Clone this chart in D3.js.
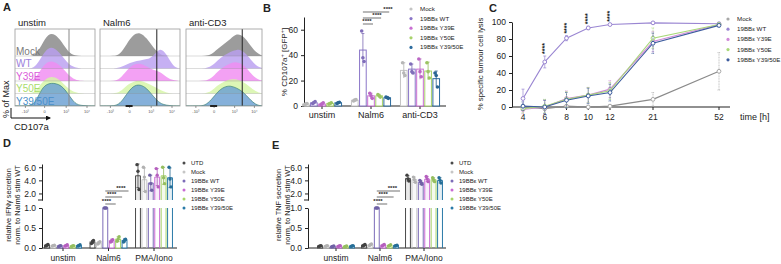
<!DOCTYPE html>
<html>
<head>
<meta charset="utf-8">
<script src="https://cdn.jsdelivr.net/npm/d3@7"></script>
<style>
  body { margin: 0; background: #fff; }
  svg { display: block; }
  text { font-family: "Liberation Sans", Arial, sans-serif; fill: #222; }
</style>
</head>
<body>
<script>
// ---------- data ----------
// A: staggered CD107a histograms, relative height sampled at 13 points across each plot
let histRows = ["Mock", "WT", "Y39E", "Y50E", "Y39/50E"];
let histConds = ["unstim", "Nalm6", "anti-CD3"];
let histUnstim = [
  [0, 0, 0, 0.02, 0.45, 0.95, 0.92, 0.6, 0.15, 0.01, 0, 0, 0],
  [0, 0, 0, 0.03, 0.5, 0.9, 0.85, 0.55, 0.18, 0.03, 0, 0, 0],
  [0, 0, 0, 0.05, 0.55, 0.85, 0.8, 0.6, 0.25, 0.05, 0, 0, 0],
  [0, 0, 0, 0.04, 0.45, 0.7, 0.7, 0.5, 0.2, 0.04, 0, 0, 0],
  [0, 0, 0, 0.08, 0.75, 0.95, 0.95, 0.85, 0.5, 0.08, 0.02, 0, 0]
];
let histNalm6 = [
  [0, 0, 0, 0.05, 0.5, 0.9, 1, 0.75, 0.35, 0.05, 0, 0, 0],
  [0, 0, 0, 0.03, 0.18, 0.28, 0.33, 0.38, 0.5, 0.9, 0.6, 0.05, 0],
  [0, 0, 0, 0.08, 0.45, 0.7, 0.75, 0.6, 0.45, 0.4, 0.15, 0.02, 0],
  [0, 0, 0, 0.05, 0.35, 0.5, 0.55, 0.45, 0.3, 0.15, 0.03, 0, 0],
  [0, 0, 0, 0.08, 0.5, 0.85, 0.9, 0.75, 0.4, 0.1, 0.03, 0, 0]
];
let histCD3 = [
  [0, 0, 0, 0, 0.05, 0.3, 0.5, 0.7, 0.95, 0.85, 0.5, 0.15, 0.02],
  [0, 0, 0, 0, 0.08, 0.35, 0.55, 0.7, 0.8, 0.75, 0.45, 0.12, 0.02],
  [0, 0, 0, 0, 0.1, 0.4, 0.6, 0.75, 0.8, 0.7, 0.4, 0.1, 0.02],
  [0, 0, 0, 0, 0.08, 0.35, 0.5, 0.6, 0.6, 0.5, 0.3, 0.08, 0],
  [0, 0, 0, 0.02, 0.25, 0.6, 0.8, 0.85, 0.75, 0.6, 0.3, 0.05, 0]
];
let histGate = [0.675, 0.71, 0.74];
let histTicks = ["-10\u00b3", "0", "10\u00b3", "10\u2074"];

// B: % CD107a+ of GFP+
let bGroups = ["unstim", "Nalm6", "anti-CD3"];
let bSeries = ["Mock", "19BB\u03b5 WT", "19BB\u03b5 Y39E", "19BB\u03b5 Y50E", "19BB\u03b5 Y39/50E"];
let bMeans = [[1.5, 2.5, 1.5, 2, 2.5], [4.5, 44, 8, 8, 6.5], [28, 29, 29, 27.5, 21.5]];
let bSd = [[0.8, 1, 1, 0.8, 0.8], [1, 13, 2, 1.2, 1], [6, 4, 8, 7, 6]];
let bPoints = [
  [[1, 1.5, 2], [2, 2.5, 3.5], [1, 1.5, 2.5], [1.5, 2, 2.5], [2, 2.5, 3]],
  [[4, 4.5, 5], [59, 38, 35], [10, 8, 6], [9, 8, 7], [7, 6.5, 6]],
  [[34, 26, 24], [33, 27, 26], [37, 27, 23], [34, 27, 22], [26, 24, 15]]
];

// C: % specific tumour cell lysis over time
let cTimes = [4, 6, 8, 10, 12, 21, 52];
let cMock = [0, -2, 1, 0, 1, 9, 42];
let cWT = [10, 53, 81, 93, 97, 99, 98];
let cY39E = [-3, 0, 10, 14, 21, 77, 97];
let cY50E = [-2, 1, 9, 14, 19, 81, 97];
let cY3950E = [1, 0, 8, 13, 17, 75, 96];
let cMockErr = [1, 2, 2, 2, 2, 8, 22];
let cWTErr = [11, 7, 3, 2, 1, 1, 1];
let cMutErr = [5, 8, 9, 9, 10, 12, 2];
let cStars = [6, 8, 10, 12];

// D / E: cytokine secretion normalised to Nalm6-stimulated WT
let dGroups = ["unstim", "Nalm6", "PMA/Iono"];
let dSeries = ["UTD", "Mock", "19BB\u03b5 WT", "19BB\u03b5 Y39E", "19BB\u03b5 Y50E", "19BB\u03b5 Y39/50E"];
let ifnMeans = [[0.07, 0.06, 0.05, 0.06, 0.05, 0.06], [0.15, 0.13, 1.0, 0.18, 0.22, 0.19], [4.7, 4.1, 3.6, 4.5, 4.7, 4.4]];
let ifnSd = [[0.02, 0.01, 0.01, 0.02, 0.01, 0.02], [0.04, 0.03, 0, 0.04, 0.06, 0.04], [1.8, 1.8, 1.2, 1.3, 1.3, 1.5]];
let ifnPoints = [
  [[0.05, 0.07, 0.09], [0.05, 0.06, 0.07], [0.04, 0.05, 0.06], [0.05, 0.06, 0.08], [0.04, 0.05, 0.06], [0.05, 0.06, 0.08]],
  [[0.11, 0.15, 0.19], [0.1, 0.13, 0.16], [1, 1, 1], [0.15, 0.18, 0.21], [0.17, 0.22, 0.28], [0.15, 0.19, 0.22]],
  [[6.4, 5.4, 2.6], [6.0, 4.5, 2.3], [4.8, 3.5, 2.5], [5.8, 4.8, 3.0], [6.0, 4.4, 3.5], [6.0, 4.2, 3.0]]
];
let tnfMeans = [[0.05, 0.05, 0.04, 0.05, 0.04, 0.05], [0.07, 0.08, 1.0, 0.07, 0.06, 0.06], [4.3, 4.1, 3.7, 4.2, 4.1, 4.0]];
let tnfSd = [[0.01, 0.01, 0.01, 0.01, 0.01, 0.01], [0.02, 0.02, 0, 0.02, 0.01, 0.01], [0.4, 0.4, 0.3, 0.4, 0.3, 0.4]];
let tnfPoints = [
  [[0.04, 0.05, 0.06], [0.04, 0.05, 0.06], [0.03, 0.04, 0.05], [0.04, 0.05, 0.06], [0.03, 0.04, 0.05], [0.04, 0.05, 0.06]],
  [[0.05, 0.07, 0.09], [0.06, 0.08, 0.1], [1, 1, 1], [0.05, 0.07, 0.09], [0.05, 0.06, 0.08], [0.05, 0.06, 0.07]],
  [[4.8, 4.2, 3.9], [4.5, 4.1, 3.7], [4.0, 3.7, 3.4], [4.6, 4.2, 3.8], [4.4, 4.1, 3.8], [4.4, 4.0, 3.6]]
];

// ---------- colours ----------
let histFill = ["#9c9c9c", "#b99ff0", "#f08cf2", "#d6f5a6", "#6a9fd2"];
let histText = ["#7a7a7a", "#9a80dc", "#d95ad9", "#a9dc6c", "#4a8fca"];
let bColors = ["#c4c4c4", "#8a76c8", "#c96fd2", "#a8d26a", "#2d6c9e"];
let cColors = ["#a8a8a8", "#9a86d2", "#d08ad8", "#a8d878", "#3d5c9e"];
let dColors = ["#4a4a4a", "#c6c6c6", "#7c6cb8", "#c96ad4", "#a6d46a", "#2a7aa8"];

let W = 781, H = 264;
let svg = d3.select("body").append("svg").attr("width", W).attr("height", H);
svg.append("rect").attr("width", W).attr("height", H).attr("fill", "#fff");

function panelLabel(t, x, y) {
  svg.append("text").attr("x", x).attr("y", y)
    .attr("font-size", 11).attr("font-weight", "bold").text(t);
}

function styleAxis(g) {
  g.selectAll("path, line").attr("stroke", "#222").attr("stroke-width", 1);
  g.selectAll("text").attr("font-family", "Liberation Sans, Arial, sans-serif").attr("fill", "#222");
}

// ================= A =================
panelLabel("A", 3, 11);
let aBoxes = [[15, 95], [100, 180], [186, 262]];
let aTop = 29, aBottom = 106;
let rowY = d3.scaleLinear().domain([0, 4]).range([56, 106]);
let hScale = d3.scaleLinear().domain([0, 1]).range([0, 24]);
let histData = [histUnstim, histNalm6, histCD3];

histConds.forEach((cond, ci) => {
  let [x0, x1] = aBoxes[ci];
  let hx = d3.scaleLinear().domain([0, 12]).range([x0, x1]);
  let g = svg.append("g");
  g.append("clipPath").attr("id", "clipA" + ci)
    .append("rect").attr("x", x0).attr("y", aTop).attr("width", x1 - x0).attr("height", aBottom - aTop);
  let inner = g.append("g").attr("clip-path", "url(#clipA" + ci + ")");

  histRows.forEach((r, ri) => {
    let base = rowY(ri);
    let area = d3.area()
      .curve(d3.curveBasis)
      .x((d, i) => hx(i))
      .y0(base)
      .y1(d => base - hScale(d));
    inner.append("path")
      .datum(histData[ci][ri])
      .attr("d", area)
      .attr("fill", histFill[ri])
      .attr("fill-opacity", ri == 0 ? 1 : 0.82)
      .attr("stroke", ri == 4 ? "#2e7a6a" : "none")
      .attr("stroke-width", 0.6);
  });
  // row separators
  histRows.forEach((r, ri) => {
    if (ri < 4) {
      inner.append("line").attr("x1", x0).attr("x2", x1)
        .attr("y1", rowY(ri)).attr("y2", rowY(ri))
        .attr("stroke", "#888").attr("stroke-opacity", 0.5).attr("stroke-width", 0.6);
    }
  });
  // gate line
  let gx = x0 + histGate[ci] * (x1 - x0);
  inner.append("line").attr("x1", gx).attr("x2", gx).attr("y1", aTop).attr("y2", aBottom)
    .attr("stroke", ci == 0 ? "#888" : "#222").attr("stroke-width", 1);
  // frame
  g.append("rect").attr("x", x0).attr("y", aTop).attr("width", x1 - x0).attr("height", aBottom - aTop)
    .attr("fill", "none").attr("stroke", "#999").attr("stroke-width", 0.8);
  g.append("text").attr("x", x0 + 3).attr("y", aTop - 3).attr("font-size", 9.5).text(cond);
  // tiny log ticks
  let tickFr = [0.13, 0.37, 0.64, 0.9];
  histTicks.forEach((t, i) => {
    let tx = x0 + tickFr[i] * (x1 - x0);
    g.append("line").attr("x1", tx).attr("x2", tx).attr("y1", aBottom).attr("y2", aBottom + 2)
      .attr("stroke", "#555").attr("stroke-width", 0.6);
    g.append("text").attr("x", tx).attr("y", aBottom + 7).attr("font-size", 4)
      .attr("text-anchor", "middle").style("fill", "#555").text(t);
  });
  if (ci > 0) {
    g.append("rect").attr("x", x0 + 0.37 * (x1 - x0) - 4).attr("y", aBottom - 1)
      .attr("width", 7).attr("height", 2).attr("fill", "#222");
  }
});
// row labels
histRows.forEach((r, ri) => {
  svg.append("text").attr("x", 16).attr("y", rowY(ri) - 1.5)
    .attr("font-size", 10).style("fill", histText[ri]).text(r);
});
// axis arrows
svg.append("defs").append("marker").attr("id", "arr").attr("viewBox", "0 0 10 10")
  .attr("refX", 8).attr("refY", 5).attr("markerWidth", 5).attr("markerHeight", 5)
  .attr("orient", "auto").append("path").attr("d", "M0,0L10,5L0,10z").attr("fill", "#111");
svg.append("path").attr("d", "M11,118H50").attr("stroke", "#111").attr("stroke-width", 1)
  .attr("marker-end", "url(#arr)");
svg.append("path").attr("d", "M11,118V108").attr("stroke", "#111").attr("stroke-width", 1);
svg.append("text").attr("transform", "translate(9,118) rotate(-90)")
  .attr("font-size", 9).text("% of Max");
svg.append("text").attr("x", 14).attr("y", 130).attr("font-size", 9.5).text("CD107a");

// ================= B =================
panelLabel("B", 263, 12);
let bx = d3.scalePoint().domain(bGroups).range([322, 420]);
let bInner = d3.scaleBand().domain(bSeries).range([-21, 21]).padding(0.18);
let by = d3.scaleLinear().domain([0, 70]).range([106, 17]);
let bw = bInner.bandwidth();
let gB = svg.append("g");
gB.append("g").attr("transform", "translate(304,0)")
  .call(d3.axisLeft(by).tickValues([0, 20, 40, 60]).tickSize(3).tickSizeOuter(0))
  .call(styleAxis).call(g => g.selectAll("text").attr("font-size", 8.5));
gB.append("line").attr("x1", 304).attr("x2", 446).attr("y1", by(0)).attr("y2", by(0)).attr("stroke", "#222");
bGroups.forEach((grp, gi) => {
  gB.append("line").attr("x1", bx(grp)).attr("x2", bx(grp)).attr("y1", by(0)).attr("y2", by(0) + 3).attr("stroke", "#222");
  gB.append("text").attr("x", bx(grp)).attr("y", by(0) + 12).attr("text-anchor", "middle")
    .attr("font-size", 9).text(grp);
  bSeries.forEach((s, si) => {
    let x = bx(grp) + bInner(s);
    let m = bMeans[gi][si], sd = bSd[gi][si];
    let cxm = x + bw / 2;
    gB.append("rect").attr("x", x).attr("y", by(m)).attr("width", bw).attr("height", by(0) - by(m))
      .attr("fill", "#fff").attr("stroke", bColors[si]).attr("stroke-width", 1);
    gB.append("path").attr("d", `M${cxm},${by(m - sd)}V${by(m + sd)}M${cxm - 1.5},${by(m + sd)}h3`)
      .attr("stroke", d3.color(bColors[si]).darker(0.3)).attr("stroke-width", 0.8).attr("fill", "none");
    bPoints[gi][si].forEach((p, pi) => {
      gB.append("circle").attr("cx", cxm + [-1.2, 0, 1.2][pi]).attr("cy", by(p)).attr("r", 1.8)
        .attr("fill", d3.color(bColors[si]).darker(0.2));
    });
  });
});
// significance brackets (labels staggered like the original)
let bWTx = bx("Nalm6") + bInner(bSeries[1]) + bw / 2;
[[4, 12, 388], [3, 18, 377], [2, 24, 367]].forEach(([si, yy, tx]) => {
  let x2 = bx("Nalm6") + bInner(bSeries[si]) + bw / 2;
  gB.append("line").attr("x1", bWTx).attr("x2", x2 + 2).attr("y1", yy).attr("y2", yy)
    .attr("stroke", "#333").attr("stroke-width", 0.7);
  gB.append("text").attr("x", tx).attr("y", yy - 1).attr("text-anchor", "middle")
    .attr("font-size", 6).attr("font-weight", "bold").text("****");
});
gB.append("text").attr("transform", "translate(287,62) rotate(-90)").attr("text-anchor", "middle")
  .attr("font-size", 8).html('% CD107a<tspan dy="-3" font-size="5.5">+</tspan><tspan dy="3"> [GFP</tspan><tspan dy="-3" font-size="5.5">+</tspan><tspan dy="3">]</tspan>');
// legend
bSeries.forEach((s, si) => {
  let ly = 11 + si * 9.6;
  gB.append("circle").attr("cx", 411).attr("cy", ly - 2).attr("r", 1.6).attr("fill", bColors[si]);
  gB.append("text").attr("x", 420).attr("y", ly).attr("font-size", 6.2).text(s);
});

// ================= C =================
panelLabel("C", 489, 12);
let cx = d3.scaleLinear().domain([4, 12, 21, 52]).range([523, 610, 653, 719]);
let cy = d3.scaleLinear().domain([0, 100]).range([107, 22]);
let gC = svg.append("g");
gC.append("g").attr("transform", "translate(512,0)")
  .call(d3.axisLeft(cy).tickValues([0, 20, 40, 60, 80, 100]).tickSize(3).tickSizeOuter(0))
  .call(styleAxis).call(g => g.selectAll("text").attr("font-size", 8.5));
gC.append("line").attr("x1", 512).attr("x2", 730).attr("y1", cy(0)).attr("y2", cy(0)).attr("stroke", "#222").attr("stroke-width", 1.2);
cTimes.forEach(t => {
  gC.append("line").attr("x1", cx(t)).attr("x2", cx(t)).attr("y1", cy(0)).attr("y2", cy(0) + 3).attr("stroke", "#222");
  gC.append("text").attr("x", cx(t)).attr("y", cy(0) + 13).attr("text-anchor", "middle").attr("font-size", 8.5).text(t);
});
gC.append("text").attr("x", 740).attr("y", cy(0) + 13).attr("font-size", 9).text("time [h]");
gC.append("text").attr("transform", "translate(483,64) rotate(-90)").attr("text-anchor", "middle")
  .attr("font-size", 7.8).text("% specific tumour cell lysis");
let cSeries = [
  { name: "Mock", vals: cMock, err: cMockErr },
  { name: "19BB\u03b5 WT", vals: cWT, err: cWTErr },
  { name: "19BB\u03b5 Y39E", vals: cY39E, err: cMutErr },
  { name: "19BB\u03b5 Y50E", vals: cY50E, err: cMutErr },
  { name: "19BB\u03b5 Y39/50E", vals: cY3950E, err: cMutErr }
];
let cLine = d3.line().x((d, i) => cx(cTimes[i])).y(d => cy(d));
cSeries.forEach((s, si) => {
  let col = si == 0 ? "#8a8a8a" : cColors[si];
  s.vals.forEach((v, i) => {
    let x = cx(cTimes[i]);
    gC.append("path").attr("d", `M${x},${cy(v - s.err[i])}V${cy(v + s.err[i])}M${x - 1.5},${cy(v - s.err[i])}h3M${x - 1.5},${cy(v + s.err[i])}h3`)
      .attr("stroke", cColors[si]).attr("stroke-width", 0.7).attr("stroke-dasharray", si == 1 ? null : "1,0.6");
  });
  gC.append("path").datum(s.vals).attr("d", cLine).attr("fill", "none")
    .attr("stroke", col).attr("stroke-width", 1.1);
  s.vals.forEach((v, i) => {
    gC.append("circle").attr("cx", cx(cTimes[i])).attr("cy", cy(v)).attr("r", 1.9)
      .attr("fill", "#fff").attr("stroke", cColors[si]).attr("stroke-width", 1);
  });
});
cStars.forEach(t => {
  let i = cTimes.indexOf(t);
  let top = cy(cWT[i] + cWTErr[i]);
  gC.append("text").attr("transform", `translate(${cx(t) + 2},${Math.max(top - 2, 17)}) rotate(-90)`)
    .attr("font-size", 7).attr("font-weight", "bold").text("****");
});
cSeries.forEach((s, si) => {
  let ly = 21 + si * 10.2;
  gC.append("circle").attr("cx", 728).attr("cy", ly - 2).attr("r", 1.6).attr("fill", cColors[si]);
  gC.append("text").attr("x", 737).attr("y", ly).attr("font-size", 6.2).text(s.name);
});

// ================= D / E =================
function drawBroken(cfg) {
  let g = svg.append("g");
  let gx = d3.scalePoint().domain(dGroups).range(cfg.xr);
  let inner = d3.scaleBand().domain(dSeries).range([-20, 20]).padding(0.24);
  let w = inner.bandwidth();
  let yLow = d3.scaleLinear().domain([0, 1]).range([248, 208]);
  let yHigh = d3.scaleLinear().domain([1, 6.5]).range([200, 164]);
  let yv = v => v <= 1 ? yLow(v) : yHigh(v);

  g.append("g").attr("transform", `translate(${cfg.ax},0)`)
    .call(d3.axisLeft(yLow).tickValues([0, 0.5, 1]).tickFormat(d3.format(".1f")).tickSize(3).tickSizeOuter(0))
    .call(styleAxis).call(a => a.selectAll("text").attr("font-size", 8.5));
  g.append("g").attr("transform", `translate(${cfg.ax},0)`)
    .call(d3.axisLeft(yHigh).tickValues([2, 4, 6]).tickSize(3).tickSizeOuter(0))
    .call(styleAxis).call(a => a.selectAll("text").attr("font-size", 8.5));
  g.append("line").attr("x1", cfg.ax - 4).attr("x2", cfg.ax + 1).attr("y1", 200).attr("y2", 200).attr("stroke", "#222");
  g.append("line").attr("x1", cfg.ax).attr("x2", cfg.xEnd).attr("y1", 248).attr("y2", 248).attr("stroke", "#222");

  dGroups.forEach((grp, gi) => {
    g.append("line").attr("x1", gx(grp)).attr("x2", gx(grp)).attr("y1", 248).attr("y2", 251).attr("stroke", "#222");
    g.append("text").attr("x", gx(grp)).attr("y", 261).attr("text-anchor", "middle").attr("font-size", 8.5).text(grp);
    dSeries.forEach((s, si) => {
      let x = gx(grp) + inner(s);
      let m = cfg.means[gi][si], sd = cfg.sd[gi][si];
      let col = dColors[si];
      let mid = x + w / 2;
      if (m <= 1) {
        g.append("rect").attr("x", x).attr("y", yLow(m)).attr("width", w).attr("height", 248 - yLow(m))
          .attr("fill", "#fff").attr("stroke", col).attr("stroke-width", 1);
      } else {
        g.append("path").attr("d", `M${x},248V208M${x + w},248V208`).attr("stroke", col).attr("stroke-width", 1);
        g.append("path").attr("d", `M${x},200V${yHigh(m)}H${x + w}V200`)
          .attr("fill", col).attr("fill-opacity", 0.12).attr("stroke", col).attr("stroke-width", 1);
      }
      if (sd > 0) {
        g.append("path").attr("d", `M${mid},${yv(m - sd)}V${yv(m + sd)}M${mid - 1.5},${yv(m + sd)}h3M${mid - 1.5},${yv(m - sd)}h3`)
          .attr("stroke", d3.color(col).darker(0.4)).attr("stroke-width", 0.8);
      }
      cfg.points[gi][si].forEach((p, pi) => {
        g.append("circle").attr("cx", mid + [-1, 0, 1][pi]).attr("cy", yv(p)).attr("r", 1.7)
          .attr("fill", d3.color(col).darker(0.3));
      });
    });
  });

  // significance
  let wtX = gx("Nalm6") + inner(dSeries[2]) + w / 2;
  [[5, 191, 6], [4, 197, 0], [3, 204, -2]].forEach(([si, yy, off]) => {
    let x2 = gx("Nalm6") + inner(dSeries[si]) + w / 2;
    g.append("line").attr("x1", wtX).attr("x2", x2 + 4).attr("y1", yy).attr("y2", yy).attr("stroke", "#333").attr("stroke-width", 0.7);
    g.append("text").attr("x", (wtX + x2) / 2 + off).attr("y", yy - 1).attr("text-anchor", "middle")
      .attr("font-size", 6).attr("font-weight", "bold").text("****");
  });

  // y label, two lines
  let lab = g.append("text").attr("transform", `translate(${cfg.lx},205) rotate(-90)`)
    .attr("text-anchor", "middle").attr("font-size", 7.4);
  lab.append("tspan").attr("x", 0).attr("dy", 0).text(cfg.label);
  lab.append("tspan").attr("x", 0).attr("dy", 8.6).text("norm. to Nalm6 stim WT");

  // legend
  dSeries.forEach((s, si) => {
    let ly = 165 + si * 9;
    g.append("circle").attr("cx", cfg.lgx).attr("cy", ly - 2).attr("r", 1.5).attr("fill", dColors[si]);
    g.append("text").attr("x", cfg.lgx + 7).attr("y", ly).attr("font-size", 6).text(s);
  });
}

panelLabel("D", 3, 147);
drawBroken({ xr: [63, 154], ax: 42, xEnd: 177, means: ifnMeans, sd: ifnSd, points: ifnPoints,
  label: "relative IFN\u03b3 secretion", lx: 11, lgx: 184 });
panelLabel("E", 272, 149);
drawBroken({ xr: [336, 424], ax: 308, xEnd: 446, means: tnfMeans, sd: tnfSd, points: tnfPoints,
  label: "relative TNF secretion", lx: 281, lgx: 452 });
</script>
</body>
</html>
